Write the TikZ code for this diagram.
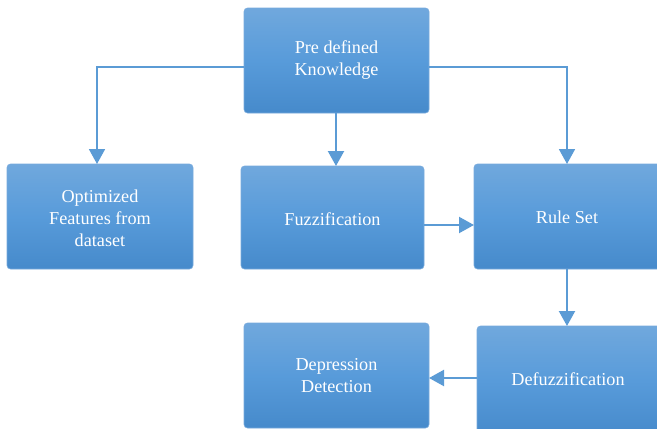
\documentclass[tikz,border=0pt]{standalone}
\usepackage{fontspec}
\setmainfont{Liberation Serif}
\usetikzlibrary{arrows.meta}
\definecolor{boxtop}{RGB}{112,168,221}
\definecolor{boxmid}{RGB}{88,155,218}
\definecolor{boxbot}{RGB}{70,138,203}
\definecolor{edgec}{RGB}{120,170,220}
\definecolor{linec}{RGB}{91,155,213}
\begin{document}
\begin{tikzpicture}[x=1pt,y=-1pt,
  blk/.style={draw=edgec, line width=0.6pt, rounded corners=3.5pt, top color=boxtop, bottom color=boxbot, middle color=boxmid},
  lbl/.style={text=white, font=\fontsize{18.2}{22}\selectfont, align=center},
  conn/.style={draw=linec, line width=2.2pt, -{Triangle[width=16pt,length=15pt]}}]
\useasboundingbox (0,0) rectangle (657,429);
\path[blk] (244,8) rectangle (429,113);
\node[lbl] (pdk) at (336.5,60.5) {Pre defined\\Knowledge};
\coordinate (pdkL) at (244,67);
\coordinate (pdkR) at (429,67);
\coordinate (pdkB) at (336,113);
\path[blk] (7,164) rectangle (193,269);
\node[lbl] (ofd) at (100,218) {Optimized\\Features from\\dataset};
\path[blk] (241,166) rectangle (424,269);
\node[lbl] (fuz) at (332.5,219) {Fuzzification};
\path[blk] (474,164) rectangle (662,269);
\node[lbl] (rs) at (567,217) {Rule Set};
\path[blk] (244,323) rectangle (429,428);
\node[lbl] (dd) at (336.5,376) {Depression\\Detection};
\path[blk] (477,326) rectangle (662,436);
\node[lbl] (dfz) at (568,379) {Defuzzification};
\coordinate (fuzR) at (424,225);
\coordinate (rsL) at (474,225);
\coordinate (rsB) at (567,269);
\coordinate (dfzT) at (567,326);
\coordinate (dfzL) at (477,378);
\coordinate (ddR) at (429,378);
\coordinate (ofdT) at (97,164);
\coordinate (rsT) at (567,164);
\coordinate (fuzT) at (336,166);
\draw[conn, line width=1.8pt] (pdkL) -| (ofdT);
\draw[conn, line width=1.8pt] (pdkR) -| (rsT);
\draw[conn] (pdkB) -- (fuzT);
\draw[conn] (fuzR) -- (rsL);
\draw[conn] (rsB) -- (dfzT);
\draw[conn] (dfzL) -- (ddR);
\end{tikzpicture}
\end{document}
